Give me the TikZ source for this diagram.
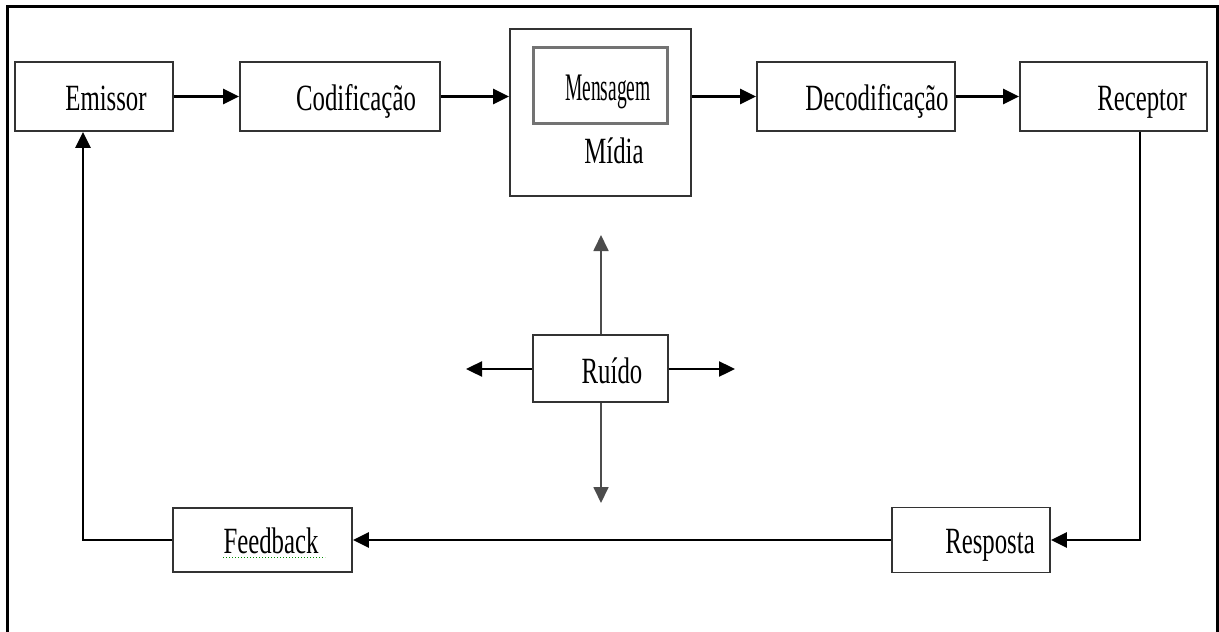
\documentclass[tikz,border=0pt]{standalone}
\usepackage{fontspec}
\setmainfont{Liberation Serif}[FakeStretch=0.67]
\newfontfamily\narrowfont{Liberation Serif}[FakeStretch=0.5]
\usetikzlibrary{arrows.meta}
\begin{document}
\begin{tikzpicture}[x=1pt,y=-1pt,
  box/.style={draw=black!80,line width=1.8pt,rectangle,inner sep=0pt},
  innerbox/.style={draw=black!55,line width=3pt,rectangle,inner sep=0pt},
  lbl/.style={anchor=base,inner sep=0pt,font=\fontsize{37}{40}\selectfont},
  arr/.style={line width=2.4pt,-{Triangle[length=16pt,width=15pt]}},
  thinarr/.style={draw=black!70,line width=1.8pt,-{Triangle[length=16pt,width=15pt]}}]
  \useasboundingbox (0,0) rectangle (1219,632);
  \clip (0,0) rectangle (1219,632);
  \fill[white] (0,0) rectangle (1219,632);

  % open frame around the diagram
  \draw[line width=3pt] (7,650) -- (7,6) -- (1217,6) -- (1217,650);

  % boxes
  \node[box,minimum width=158pt,minimum height=69pt] (em)   at (94,96.5) {};
  \node[box,minimum width=200pt,minimum height=69pt] (cod)  at (340,96.5) {};
  \node[box,minimum width=181pt,minimum height=167pt] (mid) at (600.5,112.5) {};
  \node[innerbox,minimum width=134pt,minimum height=76pt] (msg) at (600,85) {};
  \node[box,minimum width=198pt,minimum height=69pt] (dec)  at (856,96.5) {};
  \node[box,minimum width=187pt,minimum height=69pt] (rec)  at (1113.5,96.5) {};
  \node[box,minimum width=135pt,minimum height=67pt] (rui)  at (600.5,368.5) {};
  \node[box,minimum width=179pt,minimum height=64pt] (fb)   at (262.5,540) {};
  \node[box,minimum width=158pt,minimum height=65pt] (resp) at (971,540) {};

  % labels
  \node[lbl] (tem)   at (106,110) {Emissor};
  \node[lbl] (tcod)  at (356,110) {Codificação};
  \node[lbl,font=\narrowfont\fontsize{39}{40}\selectfont] (tmsg) at (608,100) {Mensagem};
  \node[lbl] (tmid)  at (614,163) {Mídia};
  \node[lbl] (tdec)  at (877,110) {Decodificação};
  \node[lbl] (trec)  at (1142,110) {Receptor};
  \node[lbl] (trui)  at (612,383) {Ruído};
  \node[lbl] (tfb)   at (271,553) {Feedback};
  \node[lbl] (tresp) at (990,553) {Resposta};
  \draw[green!55!black,line width=1pt,dotted] (tfb.south west) ++(0,4) -- ++(102,0);

  % top row flow
  \draw[arr] (em.east) -- (cod.west);
  \draw[arr] (cod.east) -- (mid.west |- cod.east);
  \draw[arr] (mid.east |- dec.west) -- (dec.west);
  \draw[arr] (dec.east) -- (rec.west);

  % return loop
  \coordinate (rx) at (1140,0);
  \coordinate (fx) at (83,0);
  \draw[arr] (rec.south -| rx) |- (resp.east);
  \draw[arr] (resp.west) -- (fb.east);
  \draw[arr] (fb.west) -| (em.south -| fx);

  % noise spreading outwards
  \coordinate (nu) at (601,235);
  \coordinate (nd) at (601,503);
  \coordinate (nl) at (466,369);
  \coordinate (nr) at (735,369);
  \draw[thinarr] (rui.north -| nu) -- (nu);
  \draw[thinarr] (rui.south -| nd) -- (nd);
  \draw[arr] (rui.west |- nl) -- (nl);
  \draw[arr] (rui.east |- nr) -- (nr);
\end{tikzpicture}
\end{document}
